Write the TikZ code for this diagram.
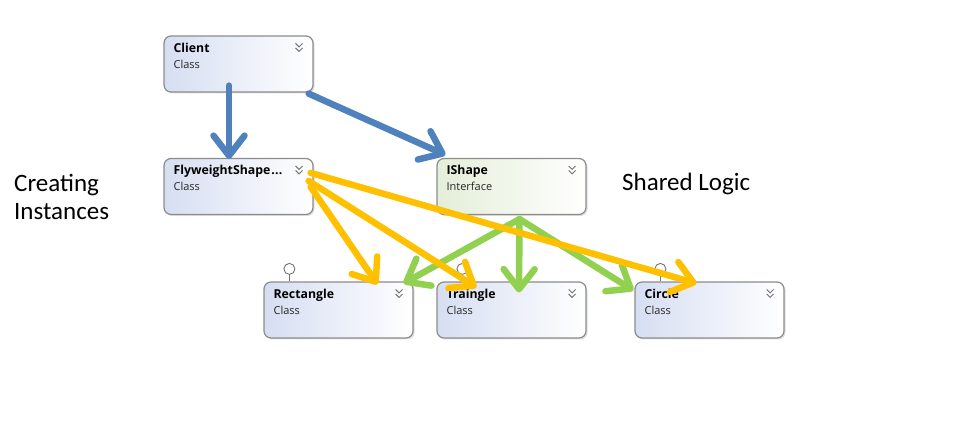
\documentclass[tikz,border=0pt]{standalone}
\usepackage{fontspec}
\setmainfont{Open Sans}
\newfontfamily\calib{Carlito}
\usetikzlibrary{arrows.meta,shadows}

\definecolor{arrblue}{RGB}{79,129,189}
\definecolor{arrgreen}{RGB}{146,208,80}
\definecolor{arryellow}{RGB}{255,192,0}
\definecolor{boxline}{RGB}{140,140,140}
\definecolor{clsleft}{RGB}{214,222,242}
\definecolor{ifcleft}{RGB}{228,238,216}

\tikzset{
	umlbox/.style={draw=boxline, line width=1.2pt, rounded corners=7pt,
		minimum width=149pt, minimum height=56pt, right color=white,
		drop shadow={shadow xshift=1.5pt, shadow yshift=-1.5pt, opacity=0.25}},
	clsbox/.style={umlbox, left color=clsleft},
	ifcbox/.style={umlbox, left color=ifcleft},
	boxname/.style={anchor=base west, inner sep=0pt, font=\fontsize{12.3}{14}\selectfont\bfseries},
	boxkind/.style={anchor=base west, inner sep=0pt, font=\fontsize{11}{13}\selectfont, text=black!85},
	chevline/.style={draw=black!55, line width=1pt},
	lolly/.style={draw=black!55, line width=0.9pt, fill=white},
	bigtext/.style={anchor=base west, inner sep=0pt, align=left, font=\calib\fontsize{25}{28}\selectfont},
	flow/.style={line width=6.5pt, line cap=round, -{Straight Barb[length=20pt,width=31pt,round]}}
}

\newcommand\chevrons[1]{%
	\draw[chevline] ([shift={(-18,-8)}]#1.north east) -- ++(3.5,-3.5) -- ++(3.5,3.5);
	\draw[chevline] ([shift={(-18,-12.5)}]#1.north east) -- ++(3.5,-3.5) -- ++(3.5,3.5);
}

\begin{document}
\begin{tikzpicture}[x=1pt, y=1pt]
	\useasboundingbox (0,0) rectangle (959,442);

	\node[clsbox] (client) at (238.5,378) {};
	\node[clsbox] (fly) at (238.5,255.5) {};
	\node[ifcbox] (ishape) at (511.5,255.5) {};
	\node[clsbox] (rect) at (338.5,132) {};
	\node[clsbox] (tri) at (511.5,132) {};
	\node[clsbox] (circ) at (709.5,132) {};

	\foreach \b/\n/\k in {client/Client/Class, fly/FlyweightShape{\kern1pt}.{\kern.3pt}.{\kern.3pt}./Class,
		ishape/IShape/Interface, rect/Rectangle/Class, tri/Traingle/Class, circ/Circle/Class} {
		\node[boxname] (\b name) at ([shift={(10,-17)}]\b.north west) {\n};
		\node[boxkind] (\b kind) at ([shift={(10,-33)}]\b.north west) {\k};
		\chevrons{\b}
	}

	\foreach \b in {rect,tri,circ} {
		\coordinate (\b pin) at ([xshift=26pt]\b.north west);
		\draw[lolly] (\b pin) -- ++(0,7);
		\draw[lolly] ([yshift=12.5pt]\b pin) circle (5.5);
	}

	\node[bigtext] (creating) at (14,222) {Creating\\Instances};
	\node[bigtext] (shared) at (622,251) {Shared Logic};

	\draw[flow, arrblue] ([shift={(-9.5,7)}]client.south) -- ([shift={(-9.5,-1)}]fly.north);
	\draw[flow, arrblue] ([shift={(-5,-1)}]client.south east) -- ([shift={(9,3)}]ishape.north west);

	\coordinate (ifcfoot) at ([shift={(8,-4)}]ishape.south);
	\draw[flow, arrgreen] (ifcfoot) -- ([shift={(-10,-2)}]rect.north east);
	\draw[flow, arrgreen] (ifcfoot) -- ([shift={(7.5,-11)}]tri.north);
	\draw[flow, arrgreen] (ifcfoot) -- ([shift={(-1,-9)}]circ.north west);

	\draw[flow, arryellow] ([shift={(-3,-15)}]fly.north east) -- ([shift={(-13,-2)}]circ.north);
	\draw[flow, arryellow] ([shift={(-5,-23)}]fly.north east) -- ([shift={(40,-6)}]tri.north west);
	\draw[flow, arryellow] ([shift={(-3,-29)}]fly.north east) -- ([shift={(-36,-3)}]rect.north east);
\end{tikzpicture}
\end{document}
